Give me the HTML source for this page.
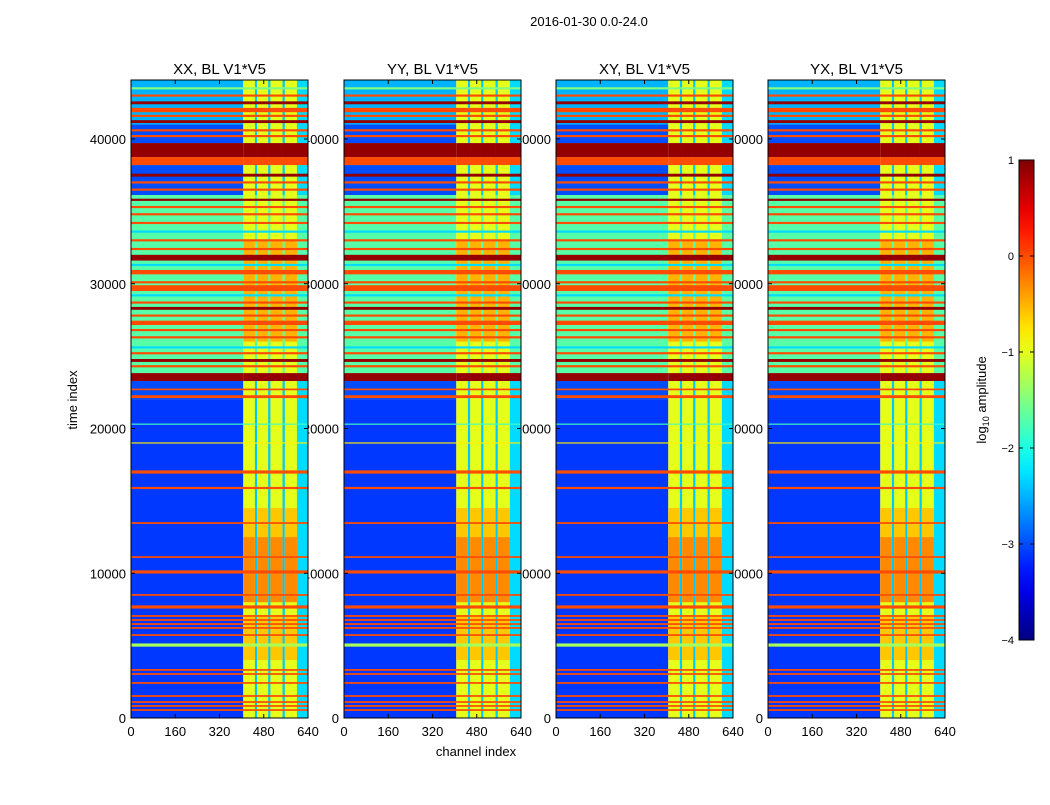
<!DOCTYPE html>
<html><head><meta charset="utf-8"><style>
body{margin:0;background:#fff;font-family:"Liberation Sans",sans-serif;}
svg text{font-family:"Liberation Sans",sans-serif;fill:#000;}
</style></head><body>
<svg id="c" width="1050" height="800" xmlns="http://www.w3.org/2000/svg">
<text x="589" y="26" font-size="13" text-anchor="middle">2016-01-30 0.0-24.0</text>
<text x="476" y="756" font-size="13" text-anchor="middle">channel index</text>
<text transform="translate(77,400) rotate(-90)" font-size="13" text-anchor="middle">time index</text>
<g id="labels"></g><g id="panels"></g><g id="cbar"></g>
</svg>
<script>
const panelTitles = ["XX, BL V1*V5","YY, BL V1*V5","XY, BL V1*V5","YX, BL V1*V5"];
const xTicks = [0,160,320,480,640];
const yTicks = [0,10000,20000,30000,40000];
const cbTicks = [1,0,-1,-2,-3,-4];
// background row regions [tStart, tEnd, log10 amplitude]
const rowRegions = [[0,22000,-3.1],[22000,23280,-3.0],[23280,23830,0.9],[23830,36130,-1.7],[36130,38200,-3.0],[38200,38750,0.0],[38750,39720,0.9],[39720,41000,-3.0],[41000,44076,-2.5]];
// narrow horizontal lines [tCenter, width, value]
const rowLines = [[550,120,0],[830,120,0],[1105,120,0],[1520,120,0],[2420,120,0],[3040,120,0],[3320,120,0],[5040,220,-1.3],[5730,120,0],[6220,120,0],[6490,120,0],[6770,120,0],[7050,120,0],[7670,220,0],[8500,120,0],[10090,220,0],[11120,120,0],[13470,120,0],[15890,150,0],[16995,220,0],[19000,80,-0.8],[20300,80,-1.8],[22200,200,0],[22700,120,0],
[24300,150,0],[24700,200,0.9],[25200,150,0],[25600,150,-2.3],[26300,150,0],[26800,150,0],[27300,300,0],[27800,150,0],[28300,200,0.9],[28700,150,0],[29200,150,-2.3],[29700,400,0],[30100,150,0],[30800,300,0],[31300,150,-2.3],[31800,400,0.9],[32400,150,0],[33000,150,0],[33600,150,-2.3],[34200,150,0],[34800,150,0],[35300,150,0],[35800,150,0.9],
[36500,150,0],[37000,150,0],[37500,200,0.9],[40200,150,0],[40600,150,0],[41200,200,0.9],[41600,150,0],[42000,300,0],[42500,200,0.9],[43000,150,0],[43500,150,-1.5]];
// channel column segments [chStart, chEnd, value]
const colSegs = [[406,448,-1.0],[448,456,-2.4],[456,496,-1.0],[496,504,-2.4],[504,548,-1.0],[548,556,-2.4],[556,600,-1.0],[600,640,-2.3]];
// extra amplitude in bright columns [tStart, tEnd, boost]
const colBoost = [[4000,7000,0.4],[8000,12500,0.7],[12500,14500,0.4],[26000,33000,0.5]];

const NS="http://www.w3.org/2000/svg";
const panelX=[131,344,556,768], PW=177, Y0=718, Y1=80, TMAX=44076;
function yS(t){return Y0-(t/TMAX)*(Y0-Y1);}
function xS(p,ch){return panelX[p]+ch/640*PW;}
function jet(v){let x=(v+4)/5;x=Math.max(0,Math.min(1,x));
 const c=q=>Math.round(255*Math.max(0,Math.min(1,1.5-Math.abs(4*x-q))));
 return `rgb(${c(3)},${c(2)},${c(1)})`;}
function mk(tag,attrs,parent){const e=document.createElementNS(NS,tag);for(const k in attrs)e.setAttribute(k,attrs[k]);parent.appendChild(e);return e;}
const L=document.getElementById('labels'),P=document.getElementById('panels'),CB=document.getElementById('cbar');
for(let p=0;p<4;p++){
 const g=mk('g',{},P);
 
 
 yTicks.forEach(t=>{const tx=mk('text',{x:panelX[p]-5,y:yS(t)+5,'font-size':13,'text-anchor':'end'},L);tx.textContent=t;
  
  });
 xTicks.forEach(t=>{const tx=mk('text',{x:xS(p,t),y:736,'font-size':13,'text-anchor':'middle'},L);tx.textContent=t;
  
  });
 const tt=mk('text',{x:panelX[p]+PW/2,y:74,'font-size':15,'text-anchor':'middle'},L);tt.textContent=panelTitles[p];
 
 
 rowRegions.forEach(([a,b,v])=>{
  const y=yS(b),h=yS(a)-yS(b);
  const r=mk('rect',{x:xS(p,0),y:y,width:xS(p,406)-xS(p,0),height:h,fill:jet(v)},g);
  
  
  colSegs.forEach(([c0,c1,cv])=>{const rr=mk('rect',{x:xS(p,c0),y:y,width:xS(p,c1)-xS(p,c0)+0.3,height:h,fill:jet(Math.max(v,cv))},g);
   
   });
 });
 colBoost.forEach(([a,b,bv])=>{
  colSegs.forEach(([c0,c1,cv])=>{if(cv<-2)return;
   const rr=mk('rect',{x:xS(p,c0),y:yS(b),width:xS(p,c1)-xS(p,c0),height:yS(a)-yS(b),fill:jet(cv+bv)},g);
   
   });
 });
 rowLines.forEach(([t,w,v])=>{
  const rr=mk('rect',{x:xS(p,0),y:yS(t+w/2),width:PW,height:Math.max(1,yS(t-w/2)-yS(t+w/2)),fill:jet(v)},g);
  
  
 });
 const fr=mk('rect',{x:panelX[p],y:Y1,width:PW,height:Y0-Y1,fill:'none',stroke:'#000','stroke-width':1},g);
 
 
 xTicks.forEach(t=>{mk('line',{x1:xS(p,t),x2:xS(p,t),y1:Y0,y2:Y0-4,stroke:'#000'},g);mk('line',{x1:xS(p,t),x2:xS(p,t),y1:Y1,y2:Y1+4,stroke:'#000'},g);});
 yTicks.forEach(t=>{mk('line',{x1:panelX[p],x2:panelX[p]+4,y1:yS(t),y2:yS(t),stroke:'#000'},g);mk('line',{x1:panelX[p]+PW,x2:panelX[p]+PW-4,y1:yS(t),y2:yS(t),stroke:'#000'},g);});
}
// colorbar
const defs=mk('defs',{},CB);const lg=mk('linearGradient',{id:'jg',x1:0,y1:1,x2:0,y2:0},defs);
for(let i=0;i<=20;i++){mk('stop',{offset:i/20,'stop-color':jet(-4+5*i/20)},lg);}
const cb=mk('rect',{x:1019,y:160,width:15,height:480,fill:'url(#jg)',stroke:'#000'},CB);


cbTicks.forEach(v=>{const y=640-(v+4)/5*480;
 mk('line',{x1:1019,x2:1023,y1:y,y2:y,stroke:'#000'},CB);mk('line',{x1:1034,x2:1030,y1:y,y2:y,stroke:'#000'},CB);
 const tx=mk('text',{x:1014,y:y+4,'font-size':11,'text-anchor':'end'},CB);tx.textContent=v<0?'\u2212'+(-v):v;
 
 });
const cl=mk('text',{transform:'translate(986,400) rotate(-90)','font-size':13,'text-anchor':'middle'},CB);
cl.innerHTML='log<tspan font-size="9" dy="3">10</tspan><tspan dy="-3"> amplitude</tspan>';


</script>
</body></html>
